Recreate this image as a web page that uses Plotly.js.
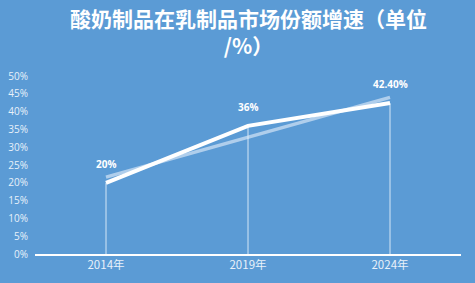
<!DOCTYPE html>
<html><head><meta charset="utf-8">
<script src="https://cdn.plot.ly/plotly-3.0.1.min.js"></script>
<style>html,body{margin:0;padding:0;background:#5B9BD5;}#c{width:475px;height:283px;}</style>
</head><body><div id="c"></div>
<script>
var categories = ['2014年', '2019年', '2024年'];
var shareValues = [20, 36, 42.4];
var labelTexts = ['20%', '36%', '42.40%'];
var trendValues = [21.6, 44.0];
var trendCats = ['2014年', '2024年'];
var yTicks = [0, 5, 10, 15, 20, 25, 30, 35, 40, 45, 50];

var traces = [
  {x: trendCats, y: trendValues, mode: 'lines', type: 'scatter',
   line: {color: 'rgba(190,215,240,0.85)', width: 3.5}, hoverinfo: 'skip'},
  {x: categories, y: shareValues, mode: 'lines', type: 'scatter',
   line: {color: '#ffffff', width: 4},
   error_y: {type: 'data', symmetric: false, array: [0,0,0], arrayminus: shareValues,
             width: 0, thickness: 1, color: 'rgba(225,238,250,0.9)'}}
];
var annotations = categories.map(function(c, i){
  return {x: c, y: shareValues[i], text: '<b>' + labelTexts[i] + '</b>', showarrow: false, yshift: 19,
          font: {family: 'Open Sans, Liberation Sans, sans-serif', size: 10, color: '#ffffff'}};
});
annotations.push({xref: 'paper', yref: 'paper', x: 0.5, y: 1, yshift: 45, xanchor: 'center', yanchor: 'middle',
  showarrow: false, text: '<b>酸奶制品在乳制品市场份额增速（单位<br>/%）</b>',
  font: {family: 'Noto Sans CJK SC, sans-serif', size: 21, color: '#ffffff'}});
var layout = {
  width: 475, height: 283,
  paper_bgcolor: '#5B9BD5', plot_bgcolor: '#5B9BD5',
  margin: {l: 35, r: 14, t: 76, b: 29},
  showlegend: false,
  xaxis: {type: 'category', categoryorder: 'array', categoryarray: categories,
          range: [-0.5, 2.5], showgrid: false, zeroline: false,
          showline: true, linecolor: '#ffffff', linewidth: 1.5, ticks: '',
          tickfont: {family: 'Noto Sans CJK SC, sans-serif', size: 11.5, color: '#e8f1fa'}},
  yaxis: {range: [0, 50], tickvals: yTicks, ticktext: yTicks.map(function(v){return v + '%';}),
          showgrid: false, zeroline: false, showline: false, ticks: '', ticklabelstandoff: 6,
          tickfont: {family: 'Open Sans, Liberation Sans, sans-serif', size: 10, color: '#e8f1fa'}},
  annotations: annotations
};
Plotly.newPlot('c', traces, layout, {displayModeBar: false, staticPlot: true});
</script></body></html>
